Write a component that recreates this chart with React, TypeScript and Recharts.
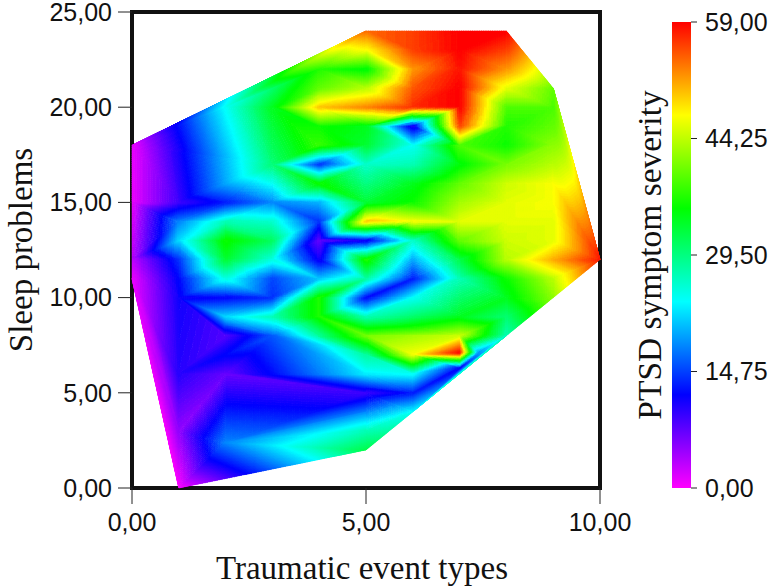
import React from 'react';
import { ScatterChart, Scatter, XAxis, YAxis, ReferenceArea, BarChart, Bar } from 'recharts';

const xTicks = [0, 5, 10];
const yTicks = [0, 5, 10, 15, 20, 25];
const scaleTicks = [0, 14.75, 29.5, 44.25, 59];

const sleepRows = [24, 23, 22, 21, 20, 19, 18, 17, 16, 15, 14, 13, 12, 11, 10, 9, 8, 7.1, 7, 6.3, 6, 5, 4, 3, 2.4, 2, 0];
const eventsByRow = [
  [5, 6, 7, 8],
  [5, 6, 7, 8],
  [4, 5, 6, 7, 8],
  [4, 5, 6, 7, 8, 9],
  [2, 3, 4, 5, 6, 7, 8, 9],
  [4, 5, 6, 7, 8, 9],
  [0, 4, 5, 6, 7, 8, 9],
  [3, 4, 5, 6, 7, 8, 9],
  [4, 6, 7, 8, 9],
  [0, 1, 2, 3, 4, 5, 6, 7, 8, 9],
  [1, 2, 3, 4, 5, 6, 7, 8, 9],
  [1, 2, 3, 4, 5, 6, 7, 8, 9],
  [0, 1, 2, 3, 4, 5, 7, 8, 9, 10],
  [0, 1, 2, 3, 4, 5, 6, 7, 8, 9],
  [1, 2, 3, 4, 5, 6, 8, 9],
  [2, 3, 4, 5, 7, 8],
  [2, 3, 5, 7, 8],
  [7, 7.4],
  [2, 5, 6],
  [7],
  [1, 2, 5, 6],
  [5, 6],
  [6],
  [1, 5],
  [2],
  [5],
  [1],
];
const severityByRow = [
  [54, 56, 59, 59],
  [47, 56, 59, 56],
  [37, 35, 52, 58, 52],
  [40, 44, 55, 59, 46, 40],
  [24, 34, 50, 53, 57, 59, 39, 39],
  [36, 34, 10, 56, 37, 40],
  [1, 38, 33, 24, 39, 36, 42],
  [30, 14, 26, 27, 35, 41, 44],
  [36, 34, 40, 45, 47],
  [1, 9, 13, 18, 20, 33, 36, 43, 46, 47],
  [18, 27, 26, 14, 50, 47, 46, 46, 46],
  [22, 36, 31, 7, 11, 26, 40, 45, 46],
  [3, 14, 33, 25, 11, 37, 32, 44, 51, 58],
  [1, 12, 25, 15, 21, 28, 13, 27, 36, 44],
  [11, 12, 14, 37, 12, 24, 34, 42],
  [22, 27, 37, 27, 34, 30],
  [8, 16, 41, 45, 27],
  [59, 18],
  [12, 28, 47],
  [12],
  [10, 7, 23, 24],
  [9, 13],
  [24],
  [5, 27],
  [18],
  [32],
  [0],
];

const vertices = sleepRows.flatMap((y, r) =>
  eventsByRow[r].map((x, c) => ({ x, y, z: severityByRow[r][c] }))
).map((v, id) => ({ ...v, id }));

const MAX = 59;
const stops: [number, number, number][] = [
  [255, 0, 255], [0, 0, 255], [0, 255, 255], [0, 255, 0], [255, 255, 0], [255, 0, 0],
];
function colourOf(z: number) {
  const t = Math.max(0, Math.min(0.99999, z / MAX)) * 5;
  const i = Math.floor(t);
  const f = t - i;
  const a = stops[i], b = stops[i + 1];
  return `rgb(${Math.round(a[0] + (b[0] - a[0]) * f)},${Math.round(a[1] + (b[1] - a[1]) * f)},${Math.round(a[2] + (b[2] - a[2]) * f)})`;
}

// Delaunay triangulation of the vertices (Bowyer-Watson), only to connect them.
function triangulate(pts: { x: number; y: number }[]) {
  const P = pts.map((p, i) => [p.x + ((i * 0.618) % 1) * 1e-3, p.y * 0.8 + ((i * 0.382) % 1) * 1e-3]);
  const n = P.length;
  P.push([-1000, -1000], [1000, -1000], [0, 1000]);
  let tris: number[][] = [[n, n + 1, n + 2]];
  const inCircle = (t: number[], p: number[]) => {
    const [ax, ay] = [P[t[0]][0] - p[0], P[t[0]][1] - p[1]];
    const [bx, by] = [P[t[1]][0] - p[0], P[t[1]][1] - p[1]];
    const [cx, cy] = [P[t[2]][0] - p[0], P[t[2]][1] - p[1]];
    const det =
      (ax * ax + ay * ay) * (bx * cy - cx * by) -
      (bx * bx + by * by) * (ax * cy - cx * ay) +
      (cx * cx + cy * cy) * (ax * by - bx * ay);
    const o = (P[t[1]][0] - P[t[0]][0]) * (P[t[2]][1] - P[t[0]][1]) - (P[t[1]][1] - P[t[0]][1]) * (P[t[2]][0] - P[t[0]][0]);
    return o > 0 ? det > 0 : det < 0;
  };
  for (let i = 0; i < n; i++) {
    const bad: number[][] = [];
    const good: number[][] = [];
    for (const t of tris) (inCircle(t, P[i]) ? bad : good).push(t);
    const edges = new Map<string, number[]>();
    for (const t of bad) {
      for (const [a, b] of [[t[0], t[1]], [t[1], t[2]], [t[2], t[0]]]) {
        const k = a < b ? `${a}_${b}` : `${b}_${a}`;
        if (edges.has(k)) edges.set(k, []);
        else edges.set(k, [a, b]);
      }
    }
    tris = good;
    edges.forEach((e) => { if (e.length) tris.push([e[0], e[1], i]); });
  }
  return tris.filter((t) => t.every((v) => v < n));
}

const triangles = triangulate(vertices);
const pixels: number[][] = [];

function MeshVertex(props: any) {
  const { cx, cy, payload } = props;
  pixels[payload.id] = [cx, cy];
  const own = triangles.filter((t) => Math.max(t[0], t[1], t[2]) === payload.id);
  if (!own.length) return null;
  const paths: React.ReactElement[] = [];
  own.forEach((t, ti) => {
    const [A, B, C] = t.map((i) => pixels[i]);
    if (!A || !B || !C) return;
    const [za, zb, zc] = t.map((i) => vertices[i].z);
    const span = Math.max(Math.hypot(A[0] - B[0], A[1] - B[1]), Math.hypot(A[0] - C[0], A[1] - C[1]), Math.hypot(B[0] - C[0], B[1] - C[1]));
    const N = Math.max(2, Math.ceil(span / 2.5));
    const at = (i: number, j: number) => {
      const u = i / N, v = j / N, w = 1 - u - v;
      return { x: u * A[0] + v * B[0] + w * C[0], y: u * A[1] + v * B[1] + w * C[1], z: u * za + v * zb + w * zc };
    };
    const bands = new Map<number, string>();
    const add = (p: any, q: any, r: any) => {
      const k = Math.round(((p.z + q.z + r.z) / 3 / MAX) * 150);
      const d = `M${p.x.toFixed(1)} ${p.y.toFixed(1)}L${q.x.toFixed(1)} ${q.y.toFixed(1)}L${r.x.toFixed(1)} ${r.y.toFixed(1)}Z`;
      bands.set(k, (bands.get(k) || '') + d);
    };
    for (let i = 0; i < N; i++) {
      for (let j = 0; j < N - i; j++) {
        add(at(i, j), at(i + 1, j), at(i, j + 1));
        if (i + j < N - 1) add(at(i + 1, j), at(i + 1, j + 1), at(i, j + 1));
      }
    }
    bands.forEach((d, k) => {
      const col = colourOf((k / 150) * MAX);
      paths.push(<path key={`${ti}-${k}`} d={d} fill={col} stroke={col} strokeWidth={0.5} />);
    });
  });
  return <g>{paths}</g>;
}

const scaleData = [{ name: 'PTSD symptom severity', value: MAX }];
const sans = '"Liberation Sans", Arial, sans-serif';
const serif = '"Liberation Serif", "Times New Roman", serif';

export default function App() {
  return (
    <div style={{ position: 'absolute', left: 0, top: 0, width: 772, height: 588, background: '#fff' }}>
      <div style={{ position: 'absolute', left: 0, top: 0 }}>
        <ScatterChart width={640} height={588} margin={{ left: 62, top: 12, right: 40, bottom: 0 }}>
          <XAxis
            type="number" dataKey="x" domain={[0, 10]} ticks={xTicks} height={100}
            tickFormatter={(v: number) => v.toFixed(2).replace('.', ',')}
            tick={{ fontFamily: sans, fontSize: 25, fill: '#111' }} tickSize={16} tickMargin={9}
            tickLine={{ stroke: '#222', strokeWidth: 1 }} axisLine={false} interval={0}
            label={{ value: 'Traumatic event types', position: 'insideBottom', offset: 9, fontFamily: serif, fontSize: 33, fill: '#111', dx: -4 }}
          />
          <YAxis
            type="number" dataKey="y" domain={[0, 25]} ticks={yTicks} width={70}
            tickFormatter={(v: number) => v.toFixed(2).replace('.', ',')}
            tick={{ fontFamily: sans, fontSize: 25, fill: '#111' }} tickSize={14} tickMargin={6}
            tickLine={{ stroke: '#222', strokeWidth: 1 }} axisLine={false} interval={0}
            label={{ value: 'Sleep problems', angle: -90, position: 'left', offset: 42, fontFamily: serif, fontSize: 33, fill: '#111', style: { textAnchor: 'middle' } }}
          />
          <Scatter data={vertices} shape={MeshVertex} isAnimationActive={false} />
          <ReferenceArea x1={0} x2={10} y1={0} y2={25} fill="none" stroke="#111" strokeWidth={4} />
        </ScatterChart>
      </div>
      <div style={{ position: 'absolute', left: 0, top: 0 }}>
        <BarChart width={772} height={588} data={scaleData} margin={{ left: 672, top: 22, right: 0, bottom: 100 }} barCategoryGap={0}>
          <defs>
            <linearGradient id="rainbow" x1="0" y1="1" x2="0" y2="0">
              {stops.map((s, i) => (
                <stop key={i} offset={`${(i / 5) * 100}%`} stopColor={`rgb(${s[0]},${s[1]},${s[2]})`} />
              ))}
            </linearGradient>
          </defs>
          <XAxis dataKey="name" hide />
          <YAxis
            orientation="right" type="number" domain={[0, MAX]} ticks={scaleTicks} width={81}
            tickFormatter={(v: number) => v.toFixed(2).replace('.', ',')}
            tick={{ fontFamily: sans, fontSize: 25, fill: '#111' }} tickSize={6} tickMargin={8}
            tickLine={{ stroke: '#222', strokeWidth: 1 }} axisLine={false} interval={0}
            label={{ value: 'PTSD symptom severity', angle: -90, position: 'left', offset: 42, fontFamily: serif, fontSize: 33.5, fill: '#111', style: { textAnchor: 'middle' } }}
          />
          <Bar dataKey="value" fill="url(#rainbow)" isAnimationActive={false} />
        </BarChart>
      </div>
    </div>
  );
}
